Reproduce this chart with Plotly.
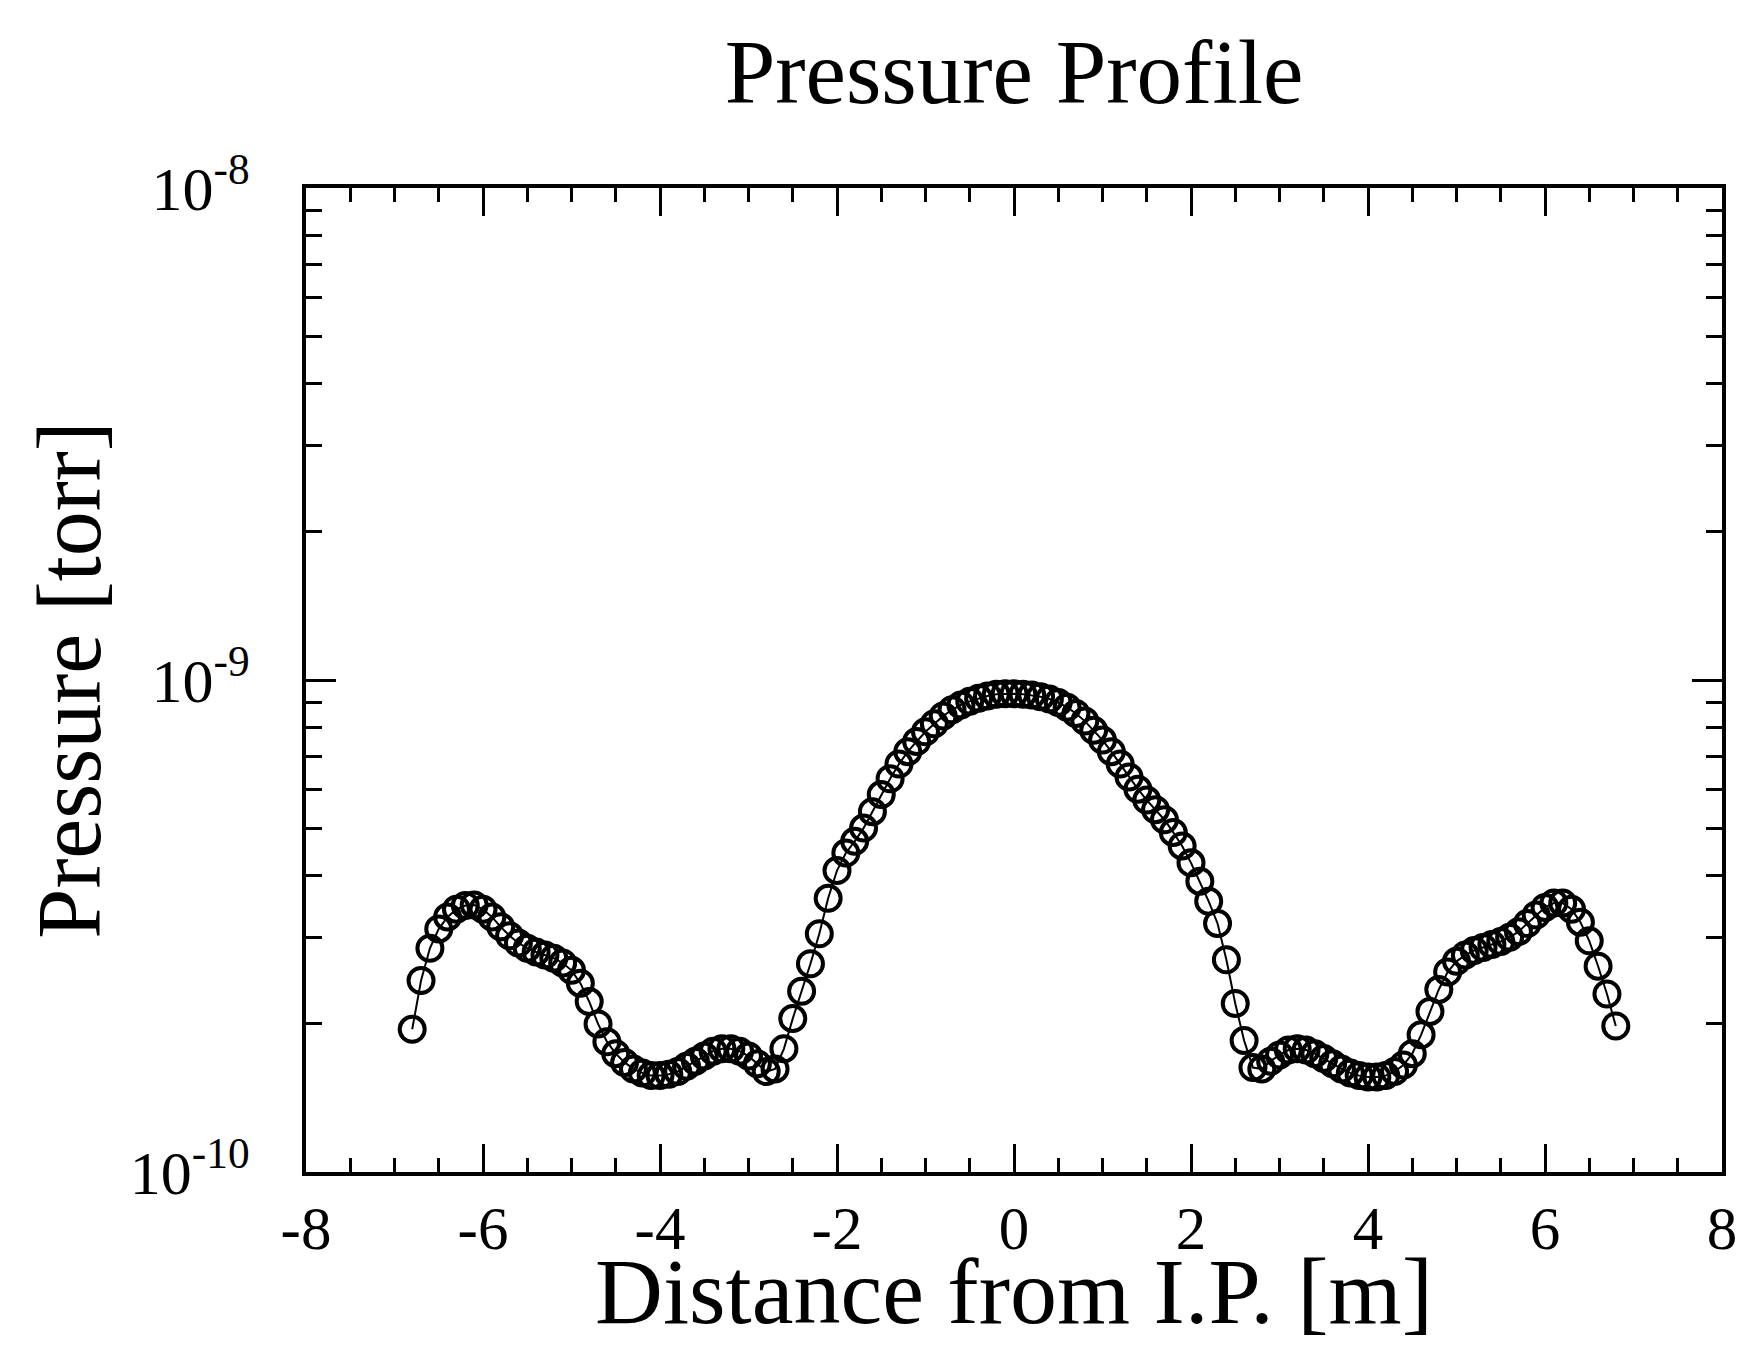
import plotly.graph_objects as go

# Distance from I.P. [m]
distance_m = [
    -6.8, -6.7, -6.6, -6.5, -6.4, -6.3, -6.2, -6.1, -6.0, -5.9, -5.8, -5.7, -5.6, -5.5,
    -5.4, -5.3, -5.2, -5.1, -5.0, -4.9, -4.8, -4.7, -4.6, -4.5, -4.4, -4.3, -4.2, -4.1,
    -4.0, -3.9, -3.8, -3.7, -3.6, -3.5, -3.4, -3.3, -3.2, -3.1, -3.0, -2.9, -2.8, -2.7,
    -2.6, -2.5, -2.4, -2.3, -2.2, -2.1, -2.0, -1.9, -1.8, -1.7, -1.6, -1.5, -1.4, -1.3,
    -1.2, -1.1, -1.0, -0.9, -0.8, -0.7, -0.6, -0.5, -0.4, -0.3, -0.2, -0.1, 0.0,
    0.1, 0.2, 0.3, 0.4, 0.5, 0.6, 0.7, 0.8, 0.9, 1.0, 1.1, 1.2, 1.3, 1.4, 1.5,
    1.6, 1.7, 1.8, 1.9, 2.0, 2.1, 2.2, 2.3, 2.4, 2.5, 2.6, 2.7, 2.8, 2.9, 3.0,
    3.1, 3.2, 3.3, 3.4, 3.5, 3.6, 3.7, 3.8, 3.9, 4.0, 4.1, 4.2, 4.3, 4.4, 4.5,
    4.6, 4.7, 4.8, 4.9, 5.0, 5.1, 5.2, 5.3, 5.4, 5.5, 5.6, 5.7, 5.8, 5.9, 6.0,
    6.1, 6.2, 6.3, 6.4, 6.5, 6.6, 6.7, 6.8,
]

# Pressure in units of 1e-10 torr
pressure_e10 = [
    1.95, 2.45, 2.85, 3.12, 3.30, 3.42, 3.48, 3.49, 3.42, 3.30, 3.15, 3.02, 2.92, 2.85,
    2.80, 2.76, 2.72, 2.66, 2.57, 2.42, 2.22, 2.00, 1.84, 1.74, 1.67, 1.62, 1.59, 1.57,
    1.57, 1.58, 1.60, 1.64, 1.68, 1.72, 1.76, 1.78, 1.78, 1.76, 1.72, 1.66, 1.60, 1.62,
    1.78, 2.05, 2.33, 2.65, 3.05, 3.60, 4.10, 4.45, 4.70, 5.00, 5.40, 5.85, 6.30, 6.75,
    7.15, 7.50, 7.85, 8.15, 8.45, 8.70, 8.90, 9.05, 9.18, 9.28, 9.35, 9.38, 9.38,
    9.36, 9.32, 9.25, 9.15, 9.00, 8.80, 8.55, 8.25, 7.90, 7.55, 7.15, 6.75, 6.35, 6.00, 5.70,
    5.45, 5.20, 4.90, 4.60, 4.25, 3.90, 3.55, 3.20, 2.70, 2.20, 1.85, 1.63, 1.62, 1.68, 1.73,
    1.77, 1.78, 1.77, 1.74, 1.70, 1.66, 1.62, 1.59, 1.57, 1.56, 1.56, 1.57, 1.60, 1.65, 1.74,
    1.90, 2.12, 2.35, 2.55, 2.68, 2.76, 2.82, 2.86, 2.90, 2.94, 3.00, 3.08, 3.20, 3.33, 3.45,
    3.52, 3.52, 3.42, 3.22, 2.95, 2.62, 2.30, 1.98,
]
pressure_torr = [v * 1e-10 for v in pressure_e10]

x_tick_vals = [-8, -6, -4, -2, 0, 2, 4, 6, 8]
x_tick_text = ["-8", "-6", "-4", "-2", "0", "2", "4", "6", "8"]
y_tick_vals = [1e-10, 1e-9, 1e-8]
y_tick_text = ["10<sup>-10</sup>", "10<sup>-9</sup>", "10<sup>-8</sup>"]

FONT = "Liberation Serif, Times New Roman, serif"

y_minor = [m * 10.0 ** e for e in (-10, -9) for m in range(2, 10)]
x_minor = [v / 2 for v in range(-16, 17) if v % 4 != 0]

fig = go.Figure()
fig.add_trace(go.Scatter(
    x=distance_m, y=pressure_torr,
    mode="lines+markers",
    line=dict(color="black", width=2),
    marker=dict(symbol="circle-open", size=25, color="black", line=dict(width=4, color="black")),
    showlegend=False,
))

fig.update_layout(
    width=1741, height=1345,
    margin=dict(l=306, r=19, t=188, b=173),
    paper_bgcolor="white", plot_bgcolor="white",
    font=dict(family=FONT, color="black"),
    title=dict(text="Pressure Profile", font=dict(family=FONT, size=91, color="black"),
               x=0.5, xref="paper", y=1 - 71 / 1345, yref="container",
               xanchor="center", yanchor="middle"),
)

# x-axis title placed as a paper annotation so it can sit as low as in the reference
fig.add_annotation(
    text="Distance from I.P. [m]", xref="paper", yref="paper",
    x=0.5, y=-0.121, xanchor="center", yanchor="middle", showarrow=False,
    font=dict(family=FONT, size=94, color="black"),
)

fig.update_xaxes(
    range=[-8, 8], tickmode="array", tickvals=x_tick_vals, ticktext=x_tick_text,
    ticks="inside", ticklen=28, tickwidth=3, tickcolor="black",
    showline=True, linecolor="black", linewidth=4, mirror="allticks",
    showgrid=False, zeroline=False, automargin=False,
    tickfont=dict(family=FONT, size=61, color="black"),
    minor=dict(tickmode="array", tickvals=x_minor, ticks="inside", ticklen=14,
               tickwidth=3, tickcolor="black", showgrid=False),
)

fig.update_yaxes(
    type="log", range=[-10, -8], tickmode="array", tickvals=y_tick_vals, ticktext=y_tick_text,
    ticks="inside", ticklen=30, tickwidth=3, tickcolor="black",
    showline=True, linecolor="black", linewidth=4, mirror="allticks",
    showgrid=False, zeroline=False, automargin=False,
    tickfont=dict(family=FONT, size=62, color="black"),
    ticklabelstandoff=40,
    minor=dict(tickmode="array", tickvals=y_minor, ticks="inside", ticklen=16,
               tickwidth=3, tickcolor="black", showgrid=False),
    title=dict(text="Pressure [torr]", font=dict(family=FONT, size=90, color="black"),
               standoff=0),
)

fig.write_html("out.html")
